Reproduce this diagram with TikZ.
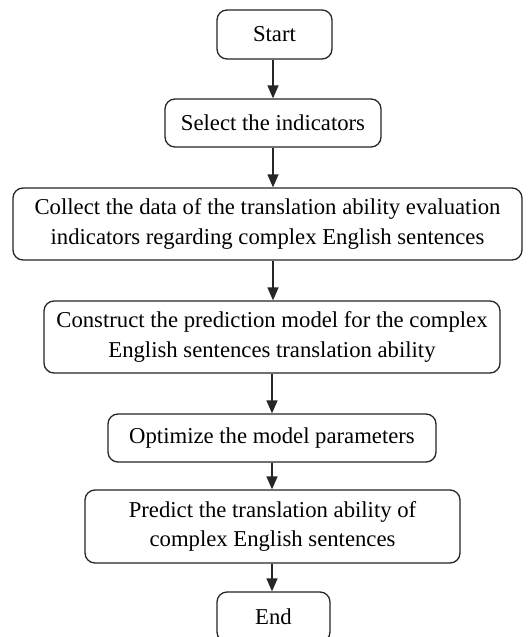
\documentclass[tikz,border=0pt]{standalone}
\usepackage{fontspec}
\setmainfont{Liberation Serif}
\usetikzlibrary{arrows.meta}
\begin{document}
\begin{tikzpicture}[x=1pt,y=-1pt,
  box/.style={draw=black!85, line width=1.3pt, rounded corners=10pt, align=center,
    inner sep=0pt, font=\fontsize{22.7}{29.5}\selectfont},
  arr/.style={draw=black!85, line width=1.3pt, -{Triangle[length=13pt,width=11pt]}}]
\clip (0,0) rectangle (528,637);
\fill[white] (0,0) rectangle (528,637);
\node[box, minimum width=115pt, minimum height=49pt] (start) at (274.5,34.5) {Start};
\node[box, minimum width=216pt, minimum height=48pt] (select) at (273,123) {Select the indicators};
\node[box, minimum width=509pt, minimum height=72pt] (collect) at (267.5,224) {Collect the data of the translation ability evaluation\\indicators regarding complex English sentences};
\node[box, minimum width=456pt, minimum height=72pt] (construct) at (272,337) {Construct the prediction model for the complex\\English sentences translation ability};
\node[box, minimum width=328pt, minimum height=48pt] (optimize) at (272,438) {Optimize the model parameters};
\node[box, minimum width=375pt, minimum height=73pt] (predict) at (272.5,526.5) {Predict the translation ability of\\complex English sentences};
\node[box, minimum width=113pt, minimum height=50pt] (end) at (273.5,617) {End};
\draw[arr] (start.south -| select.north) -- (select.north);
\draw[arr] (select.south) -- (select.south |- collect.north);
\draw[arr] (select.south |- collect.south) -- (select.south |- construct.north);
\draw[arr] (construct.south -| optimize.north) -- (optimize.north);
\draw[arr] (optimize.south) -- (optimize.south |- predict.north);
\draw[arr] (predict.south -| optimize.north) -- (optimize.north |- end.north);
\end{tikzpicture}
\end{document}
